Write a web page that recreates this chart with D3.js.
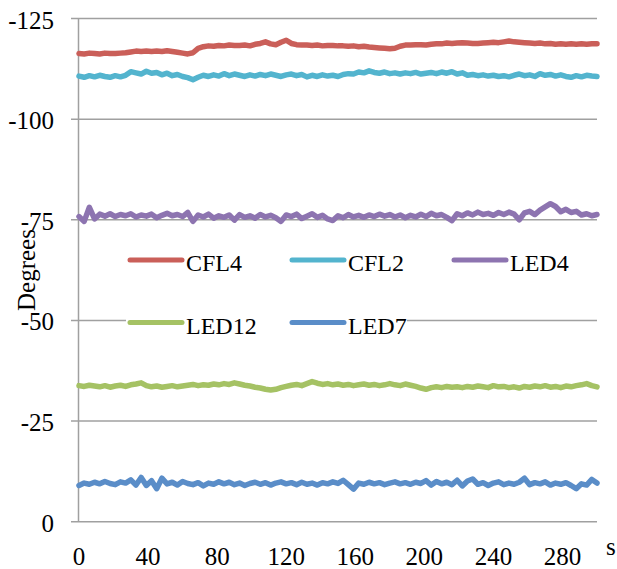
<!DOCTYPE html>
<html>
<head>
<meta charset="utf-8">
<script src="https://cdn.jsdelivr.net/npm/d3@7"></script>
<style>
  html, body { margin: 0; padding: 0; background: #fff; }
  svg { display: block; }
  text { font-family: "Liberation Serif", "Times New Roman", serif; fill: #000; }
</style>
</head>
<body>
<svg id="chart" width="617" height="569"></svg>
<script>
// Phase readings (degrees), one sample every 3 s from 0 to 300 s
const timeStep = 3;
const seriesNames = ["CFL4", "CFL2", "LED4", "LED12", "LED7"];
const seriesColors = ["#CA5F59", "#53B4CE", "#8D74B0", "#A5C264", "#5A8DC8"];

const cfl4 = [-116.3,-116.2,-116.4,-116.3,-116.2,-116.4,-116.3,-116.3,-116.4,-116.5,
  -116.7,-116.9,-116.8,-116.9,-116.8,-116.9,-116.8,-117.0,-116.8,-116.6,
  -116.4,-116.2,-116.5,-117.6,-118.0,-118.2,-118.1,-118.3,-118.2,-118.4,
  -118.3,-118.3,-118.4,-118.2,-118.6,-118.8,-119.2,-118.7,-118.5,-119.1,
  -119.6,-118.8,-118.5,-118.4,-118.4,-118.3,-118.4,-118.2,-118.3,-118.3,
  -118.2,-118.2,-118.1,-118.2,-118.0,-118.1,-117.9,-117.8,-117.7,-117.6,
  -117.5,-117.6,-118.1,-118.4,-118.4,-118.5,-118.5,-118.4,-118.6,-118.7,
  -118.7,-118.9,-118.8,-118.9,-119.0,-118.9,-118.8,-118.8,-118.9,-119.0,
  -119.1,-119.0,-119.2,-119.4,-119.2,-119.1,-119.0,-118.9,-118.8,-118.9,
  -118.7,-118.8,-118.6,-118.7,-118.6,-118.7,-118.6,-118.7,-118.6,-118.7,-118.7];

const cfl2 = [-110.7,-110.4,-110.8,-110.5,-110.9,-110.6,-110.4,-110.8,-110.5,-110.9,
  -111.8,-111.5,-111.2,-111.9,-111.4,-111.6,-111.0,-111.4,-110.8,-111.1,
  -110.6,-110.3,-109.8,-110.4,-110.9,-110.6,-111.0,-110.7,-111.3,-110.8,
  -111.2,-110.9,-110.6,-111.0,-110.7,-111.1,-110.8,-111.2,-110.9,-110.6,
  -111.0,-111.2,-110.8,-111.1,-110.5,-110.9,-110.6,-111.0,-110.7,-110.9,
  -110.6,-111.1,-111.3,-111.2,-111.7,-111.5,-112.0,-111.6,-111.4,-111.7,
  -111.3,-111.5,-111.2,-111.5,-111.3,-111.6,-111.2,-111.4,-111.6,-111.3,
  -111.7,-111.4,-111.8,-111.2,-111.5,-110.9,-111.1,-110.8,-111.0,-110.7,
  -110.9,-110.6,-110.8,-110.5,-110.9,-111.2,-110.8,-111.0,-110.6,-111.3,
  -110.9,-111.1,-110.7,-111.0,-110.6,-110.4,-110.8,-110.5,-110.9,-110.7,-110.6];

const led4 = [-75.8,-74.6,-78.1,-75.2,-76.4,-75.9,-76.5,-75.8,-76.3,-76.0,
  -76.5,-75.7,-76.2,-75.9,-76.4,-75.5,-76.1,-76.6,-76.0,-76.3,
  -75.8,-76.8,-74.6,-76.2,-75.7,-76.4,-75.4,-76.0,-75.6,-76.2,
  -74.9,-76.3,-75.6,-76.0,-75.4,-76.3,-75.7,-76.1,-75.5,-74.6,
  -76.2,-75.8,-76.4,-75.3,-75.9,-76.5,-75.6,-76.1,-75.2,-74.8,
  -76.0,-75.5,-76.3,-75.7,-76.1,-75.6,-76.2,-75.8,-76.4,-75.9,
  -76.3,-75.7,-76.2,-75.5,-76.1,-75.7,-76.4,-75.8,-76.6,-76.0,
  -76.3,-75.6,-74.8,-76.5,-76.0,-76.7,-76.2,-76.9,-76.3,-76.6,
  -76.1,-76.8,-76.3,-76.9,-76.4,-75.0,-76.7,-77.1,-76.3,-77.4,
  -78.2,-79.0,-78.3,-77.0,-77.6,-76.8,-77.1,-76.2,-76.5,-76.0,-76.3];

const led12 = [-33.8,-33.6,-33.9,-33.7,-33.5,-33.8,-33.4,-33.7,-33.9,-33.6,
  -34.0,-34.2,-34.5,-33.8,-33.5,-33.7,-33.4,-33.6,-33.8,-33.5,
  -33.7,-33.9,-34.1,-33.8,-34.0,-33.9,-34.2,-34.0,-34.3,-34.1,
  -34.5,-34.2,-33.9,-33.7,-33.4,-33.2,-32.9,-32.7,-32.9,-33.3,
  -33.6,-33.9,-34.1,-33.8,-34.3,-34.8,-34.4,-34.1,-34.3,-34.0,
  -34.2,-33.9,-34.1,-33.8,-34.0,-34.2,-33.9,-34.1,-33.8,-34.0,
  -34.3,-34.0,-33.8,-34.2,-33.9,-33.6,-33.2,-32.9,-33.3,-33.5,
  -33.3,-33.6,-33.4,-33.5,-33.3,-33.6,-33.4,-33.7,-33.5,-33.3,
  -33.8,-33.5,-33.6,-33.3,-33.5,-33.2,-33.6,-33.4,-33.7,-33.5,
  -33.8,-33.4,-33.6,-33.3,-33.7,-33.5,-33.8,-34.0,-34.3,-33.8,-33.5];

const led7 = [-9.0,-9.6,-9.3,-9.8,-9.4,-10.0,-9.5,-9.2,-9.9,-9.6,
  -10.4,-9.1,-11.0,-9.0,-10.2,-8.2,-10.8,-9.4,-9.8,-9.1,
  -10.0,-9.5,-9.2,-9.7,-8.9,-9.6,-9.3,-9.9,-9.4,-9.8,
  -9.2,-9.6,-9.0,-9.5,-9.8,-9.3,-9.7,-9.1,-9.6,-9.9,
  -9.4,-9.7,-9.2,-9.8,-9.3,-9.6,-9.1,-9.7,-9.4,-9.9,
  -9.5,-10.3,-9.2,-8.1,-9.6,-9.3,-9.8,-9.4,-9.7,-9.2,
  -9.6,-9.9,-9.4,-9.7,-9.3,-9.8,-9.5,-10.2,-9.1,-10.0,
  -9.4,-9.8,-9.2,-10.3,-8.9,-10.1,-10.6,-9.3,-9.7,-9.0,
  -9.6,-9.9,-9.2,-9.6,-9.3,-9.8,-10.8,-9.2,-9.7,-9.4,
  -9.9,-9.1,-9.6,-9.3,-9.7,-9.0,-8.2,-9.4,-9.1,-10.5,-9.6];

const seriesValues = [cfl4, cfl2, led4, led12, led7];
const yTicks = [0, -25, -50, -75, -100, -125];
const xTicks = [0, 40, 80, 120, 160, 200, 240, 280];
const yLabel = "Degrees";
const xUnit = "s";

const svg = d3.select("#chart");
const plot = { left: 78.5, right: 597, top: 18.5, bottom: 521.7 };

const x = d3.scaleLinear().domain([0, 300]).range([79, plot.right]);
const y = d3.scaleLinear().domain([0, -125]).range([plot.bottom, plot.top]);

const gridColor = "#a0a0a0";

// horizontal gridlines with short outward ticks
svg.append("g")
  .selectAll("line")
  .data(yTicks)
  .join("line")
  .attr("x1", 71).attr("x2", plot.right)
  .attr("y1", d => y(d)).attr("y2", d => y(d))
  .attr("stroke", gridColor).attr("stroke-width", 1.5);

// vertical axis line
svg.append("line")
  .attr("x1", plot.left).attr("x2", plot.left)
  .attr("y1", y(-125)).attr("y2", y(0))
  .attr("stroke", gridColor).attr("stroke-width", 1.5);

// y tick labels (plain hyphen-minus)
svg.append("g")
  .selectAll("text")
  .data(yTicks)
  .join("text")
  .attr("x", 54)
  .attr("y", d => y(d) + 10)
  .attr("text-anchor", "end")
  .attr("font-size", 25)
  .text(d => String(d));

// x tick labels
svg.append("g")
  .selectAll("text")
  .data(xTicks)
  .join("text")
  .attr("x", d => x(d))
  .attr("y", 565)
  .attr("text-anchor", "middle")
  .attr("font-size", 25)
  .text(d => String(d));

svg.append("text")
  .attr("x", 606).attr("y", 555)
  .attr("font-size", 25)
  .text(xUnit);

// legend backdrop
const legendRows = [[0, 1, 2], [3, 4]];
const legendCols = [128, 290, 452];
const legendRowY = [260, 322.5];

svg.append("rect")
  .attr("x", 126).attr("y", 243)
  .attr("width", 281).attr("height", 95)
  .attr("fill", "#fff");

// series lines
const line = d3.line()
  .x((d, i) => x(i * timeStep))
  .y(d => y(d));

svg.append("g")
  .selectAll("path")
  .data(seriesValues)
  .join("path")
  .attr("d", d => line(d))
  .attr("fill", "none")
  .attr("stroke", (d, i) => seriesColors[i])
  .attr("stroke-width", 5.5)
  .attr("stroke-linejoin", "round")
  .attr("stroke-linecap", "round");

// legend entries
legendRows.forEach((row, r) => {
  row.forEach((si, c) => {
    const lx = legendCols[c];
    const ly = legendRowY[r];
    svg.append("line")
      .attr("x1", lx + 2).attr("x2", lx + 54)
      .attr("y1", ly).attr("y2", ly)
      .attr("stroke", seriesColors[si])
      .attr("stroke-width", 5)
      .attr("stroke-linecap", "round");
    svg.append("text")
      .attr("x", lx + 58).attr("y", ly + 11)
      .attr("font-size", 24)
      .text(seriesNames[si]);
  });
});

// y axis title
svg.append("text")
  .attr("transform", "translate(35,270) rotate(-90)")
  .attr("text-anchor", "middle")
  .attr("font-size", 25)
  .text(yLabel);
</script>
</body>
</html>
